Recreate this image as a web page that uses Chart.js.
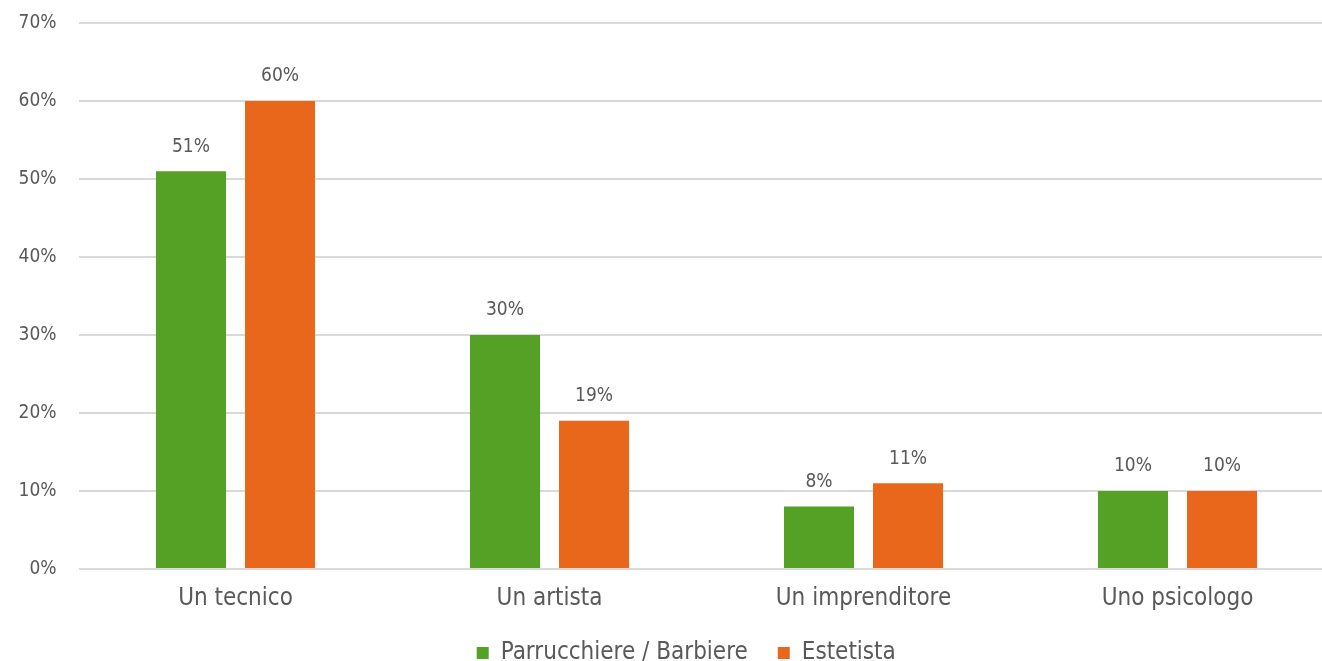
<!DOCTYPE html>
<html>
<head>
<meta charset="utf-8">
<script src="https://cdn.jsdelivr.net/npm/chart.js@4.4.1/dist/chart.umd.min.js"></script>
<style>
    html, body { margin: 0; padding: 0; background: #fff; overflow: hidden; }
    #wrap { width: 1322px; height: 661px; overflow: hidden; position: relative; }
    #box { width: 1350px; height: 661px; position: absolute; left: 0; top: 0; }
</style>
</head>
<body>
<div id="wrap"><div id="box"><canvas id="chart"></canvas></div></div>
<script>
const categories = ['Un tecnico', 'Un artista', 'Un imprenditore', 'Uno psicologo']
const seriesNames = ['Parrucchiere / Barbiere', 'Estetista']
const parrucchiere = [51, 30, 8, 10]
const estetista = [60, 19, 11, 10]
const seriesColors = ['#55A125', '#E8671A']
const yTicks = [0, 10, 20, 30, 40, 50, 60, 70]

const FONT = '"DejaVu Sans Condensed", "DejaVu Sans", sans-serif'
const TEXT = '#595959'

const valueLabels = {
    id: 'valueLabels',
    afterDatasetsDraw(chart) {
        const {ctx} = chart
        ctx.save()
        ctx.font = '19px ' + FONT
        ctx.fillStyle = TEXT
        ctx.textAlign = 'center'
        ctx.textBaseline = 'bottom'
        chart.data.datasets.forEach((ds, i) => {
            chart.getDatasetMeta(i).data.forEach((bar, j) => {
                ctx.fillText(ds.data[j] + '%', bar.x, bar.y - 15)
            })
        })
        ctx.restore()
    }
}

// the legend sits a little right of the canvas centre in the original
const legendShift = {
    id: 'legendShift',
    afterLayout(chart) {
        const lg = chart.legend
        if (lg) {
            lg.left += 19
            lg.right += 19
            lg.top -= 4
            lg.bottom -= 4
        }
    }
}

Chart.defaults.font.family = FONT
Chart.defaults.color = TEXT

new Chart(document.getElementById('chart'), {
    type: 'bar',
    data: {
        labels: categories,
        datasets: [
            {label: seriesNames[0], data: parrucchiere, backgroundColor: seriesColors[0]},
            {label: seriesNames[1], data: estetista, backgroundColor: seriesColors[1]},
        ]
    },
    options: {
        responsive: true,
        maintainAspectRatio: false,
        animation: false,
        categoryPercentage: 0.567,
        barPercentage: 0.787,
        layout: {padding: {left: 0, right: 15.5, top: 23, bottom: -18}},
        plugins: {
            tooltip: {enabled: false},
            legend: {
                position: 'bottom',
                labels: {
                    boxWidth: 12,
                    boxHeight: 12,
                    padding: 30,
                    color: TEXT,
                    font: {size: 24},
                }
            }
        },
        scales: {
            x: {
                grid: {display: false, drawTicks: false},
                border: {display: false},
                ticks: {font: {size: 24}, color: TEXT, padding: 15},
                afterFit: (scale) => { scale.height = 46 }
            },
            y: {
                min: 0,
                max: 70,
                afterBuildTicks: (scale) => { scale.ticks = yTicks.map(v => ({value: v})) },
                afterFit: (scale) => {
                    scale.width = 78.5
                    scale.paddingTop = 0
                },
                border: {display: false},
                grid: {color: '#D9D9D9', lineWidth: 2, drawTicks: false},
                ticks: {
                    font: {size: 19},
                    color: TEXT,
                    padding: 22,
                    callback: (v) => v + '%'
                }
            }
        }
    },
    plugins: [valueLabels, legendShift]
})
</script>
</body>
</html>
